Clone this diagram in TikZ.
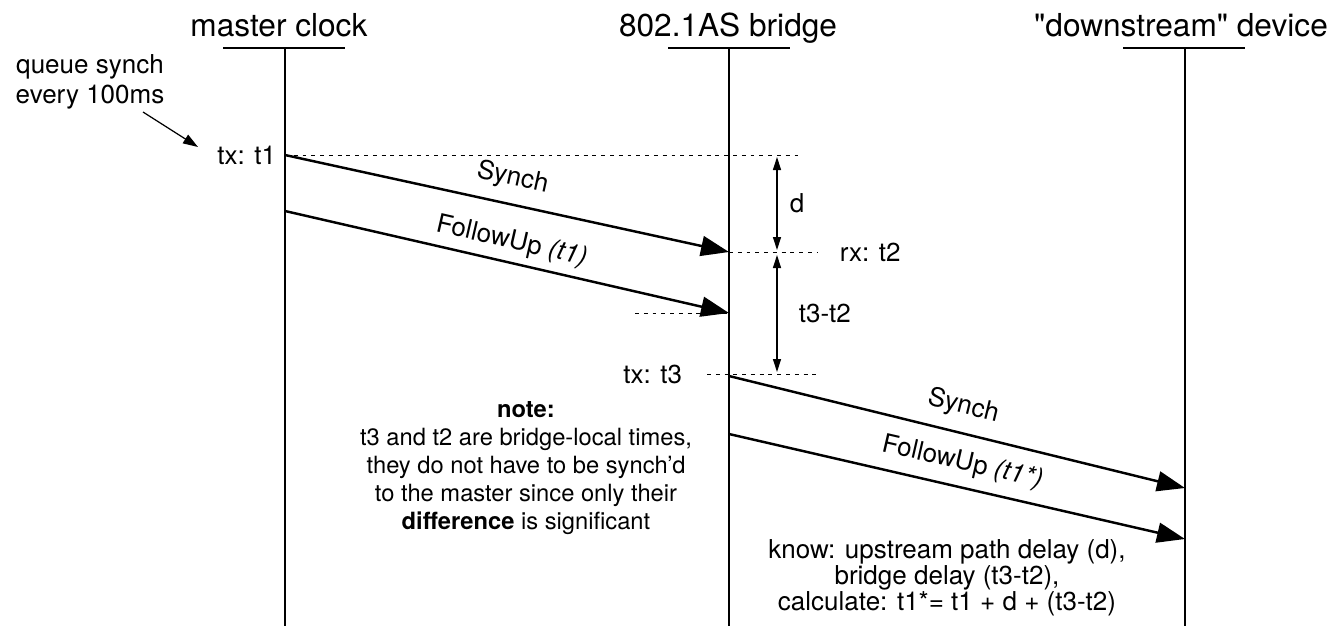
\documentclass[tikz,border=0pt]{standalone}
\usepackage{fontspec}
\setmainfont{TeX Gyre Heros}
\usetikzlibrary{arrows.meta}

\begin{document}
\begin{tikzpicture}[x=0.02cm,y=-0.02cm,
    life/.style={line width=1.4pt},
    msg/.style={line width=1.4pt,-{Triangle[length=0.56cm,width=0.4cm]}},
    tick/.style={line width=0.5pt,dash pattern=on 2.2pt off 2.8pt},
    span/.style={line width=0.7pt,{Triangle[length=0.26cm,width=0.16cm]}-{Triangle[length=0.26cm,width=0.16cm]}},
    pointer/.style={line width=0.7pt,-{Triangle[length=0.3cm,width=0.2cm]}},
    title/.style={font=\fontsize{18}{21}\selectfont,anchor=base},
    lbl/.style={font=\fontsize{14.8}{17}\selectfont,inner sep=2pt}]
      \useasboundingbox (0,0) rectangle (1333,626);

      % lifelines
      \coordinate (mc) at (285,48);
      \coordinate (br) at (729,48);
      \coordinate (ds) at (1185,48);

      \node[title] (mc title) at (279,36) {master clock};
      \node[title] (br title) at (728,36) {802.1AS bridge};
      \node[title] (ds title) at (1181,36) {\textquotedbl downstream\textquotedbl{} device};

      \draw[life] (223,48) -- (345,48);
      \draw[life] (668,48) -- (790,48);
      \draw[life] (1123,48) -- (1245,48);
      \draw[life] (mc) -- (285,626);
      \draw[life] (br) -- (729,626);
      \draw[life] (ds) -- (1185,626);

      % message end points
      \coordinate (t1) at (285,155);
      \coordinate (t2) at (729,252);
      \coordinate (f1) at (285,211);
      \coordinate (f2) at (729,313);
      \coordinate (t3) at (729,376);
      \coordinate (s4) at (1185,488);
      \coordinate (f3) at (729,434);
      \coordinate (f4) at (1185,539);

      % time marks
      \draw[tick] (t1) -- (802,155);
      \draw[tick] (t2) -- (818,252);
      \draw[tick] (635,313) -- (f2);
      \draw[tick] (707,374) -- (818,374);

      \draw[msg] (t1) -- (t2) node[midway, sloped, above=5pt, lbl] {Synch};
      \draw[msg] (f1) -- (f2) node[midway, sloped, above=2pt, lbl] {FollowUp \textit{(t1)}};
      \draw[msg] (t3) -- (s4) node[midway, sloped, above=5pt, lbl] {Synch};
      \draw[msg] (f3) -- (f4) node[midway, sloped, above=4pt, lbl] {FollowUp \textit{(t1*)}};

      \node[lbl, anchor=east] (tx1) at (280,155) {tx: t1};
      \node[lbl, anchor=west] (rx2) at (836,252) {rx: t2};
      \node[lbl, anchor=east] (tx3) at (686,374) {tx: t3};

      % delays
      \coordinate (d top) at (777,157);
      \coordinate (d bot) at (777,250);
      \coordinate (b top) at (777,255);
      \coordinate (b bot) at (777,372);
      \draw[span] (d top) -- (d bot);
      \draw[span] (b top) -- (b bot);
      \node[lbl, anchor=west] (d) at (786,203) {d};
      \node[lbl, anchor=west] (bd) at (795,313) {t3-t2};

      % comments
      \node[lbl, align=center] (queue) at (90,82) {queue synch\\every 100ms};
      \coordinate (q tail) at (143,112);
      \coordinate (q tip) at (198,147);
      \draw[pointer] (q tail) -- (q tip);

      \node[font=\fontsize{13.5}{15.9}\selectfont, align=center] (note) at (526,468)
        {\textbf{note:}\\t3 and t2 are bridge-local times,\\they do not have to be synch'd\\to the master since only their\\\textbf{difference} is significant};

      \node[font=\fontsize{14.8}{14.8}\selectfont, align=center] (calc) at (947,578)
        {know: upstream path delay (d),\\bridge delay (t3-t2),\\calculate: t1*= t1 + d + (t3-t2)};
    \end{tikzpicture}
\end{document}
